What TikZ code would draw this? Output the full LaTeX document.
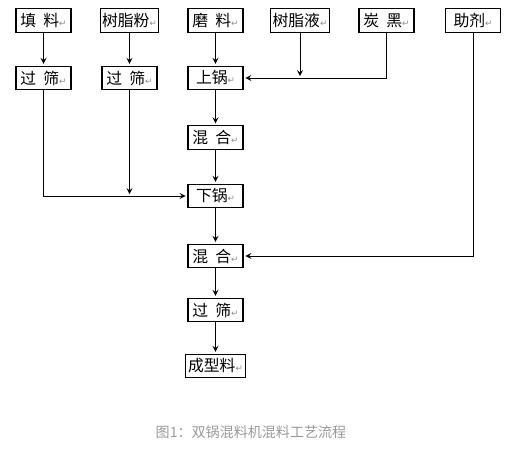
\documentclass[tikz,border=0pt]{standalone}
\usepackage{fontspec}
\setmainfont{Noto Sans CJK SC}
\newfontfamily\symfont{DejaVu Sans}
\usepackage{tikz}
\usepackage{xcolor}

% paragraph mark as printed after each label
\newcommand{\retmark}{{\symfont\color{black!45}\fontsize{5}{6}\selectfont ↵}}
\newcommand{\gap}{\hspace{0.45em}}

\begin{document}
\begin{tikzpicture}[x=0.02cm, y=-0.02cm, >=stealth, font=\fontsize{9}{10}\selectfont,
		box/.style={draw, line width=0.6pt, minimum width=1.1cm, minimum height=0.47cm, inner sep=1pt},
		flow/.style={->, line width=0.55pt, shorten >=1pt}]
		\useasboundingbox (0,0) rectangle (511,452);
		% raw materials
		\node[box] (tianliao) at (43.5,20.5) {填\gap 料\retmark};
		\node[box] (shuzhifen) at (129.5,20.5) {树脂粉\retmark};
		\node[box] (moliao) at (215.5,20.5) {磨\gap 料\retmark};
		\node[box] (shuzhiye) at (300,20.5) {树脂液\retmark};
		\node[box] (tanhei) at (386.5,20.5) {炭\gap 黑\retmark};
		\node[box] (zhuji) at (473,20.5) {助剂\retmark};
		% process steps
		\node[box] (guoshaiA) at (43.5,78) {过\gap 筛\retmark};
		\node[box] (guoshaiB) at (129.5,78) {过\gap 筛\retmark};
		\node[box] (shangguo) at (215.5,78) {上锅\retmark};
		\node[box] (hunheA) at (215.5,137.5) {混\gap 合\retmark};
		\node[box] (xiaguo) at (215.5,196) {下锅\retmark};
		\node[box] (hunheB) at (215.5,256) {混\gap 合\retmark};
		\node[box] (guoshaiC) at (215.5,310) {过\gap 筛\retmark};
		\node[box, minimum width=1.2cm] (chengxing) at (215.5,366) {成型料\retmark};
		% connectors
		\draw[flow] (tianliao) -- (guoshaiA);
		\draw[flow] (shuzhifen) -- (guoshaiB);
		\draw[flow] (moliao) -- (shangguo);
		\draw[flow] (shuzhiye.south) -- (shuzhiye.south |- shangguo.east);
		\draw[flow] (tanhei.south) |- (shangguo.east);
		\draw[flow] (shangguo) -- (hunheA);
		\draw[flow] (hunheA) -- (xiaguo);
		\draw[flow] (guoshaiA.south) |- (xiaguo.west);
		\draw[flow] (guoshaiB.south) -- (guoshaiB.south |- xiaguo.west);
		\draw[flow] (xiaguo) -- (hunheB);
		\draw[flow] (zhuji.south) |- (hunheB.east);
		\draw[flow] (hunheB) -- (guoshaiC);
		\draw[flow] (guoshaiC) -- (chengxing);
		% caption
		\node[text=black!40, font=\fontsize{8}{10}\selectfont] (caption) at (251,432) {图1：双锅混料机混料工艺流程};
	\end{tikzpicture}
\end{document}
